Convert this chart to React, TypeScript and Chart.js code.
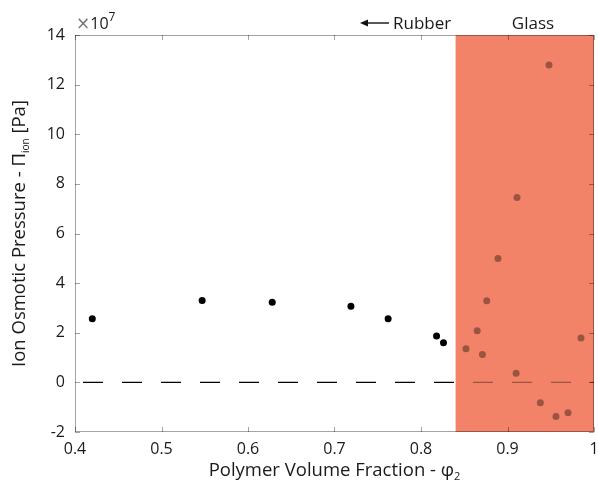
import { useEffect, useRef } from "react";
import { Chart, registerables } from "chart.js";

Chart.register(...registerables);

// Polymer volume fraction (phi_2) and ion osmotic pressure (units of 1e7 Pa)
const rubberPhi = [0.42, 0.547, 0.628, 0.719, 0.762, 0.818, 0.826];
const rubberPi = [2.56, 3.3, 3.23, 3.07, 2.56, 1.87, 1.6];
const glassPhi = [0.852, 0.865, 0.871, 0.876, 0.889, 0.91, 0.911, 0.938, 0.948, 0.956, 0.97, 0.985];
const glassPi = [1.36, 2.08, 1.12, 3.29, 4.99, 0.37, 7.45, -0.82, 12.79, -1.38, -1.22, 1.79];
const zeroLinePhi = [0.4, 0.84, 1.0];
const glassStart = 0.84;
const xTicks = [0.4, 0.5, 0.6, 0.7, 0.8, 0.9, 1.0];
const yTicks = [-2, 0, 2, 4, 6, 8, 10, 12, 14];
const exponentText = "7";

const FONT = "'Open Sans', 'DejaVu Sans', sans-serif";
const FRAME = "rgba(0,0,0,0.36)";
const ORANGE = "rgb(243,131,104)";
const SHADE = "rgba(0,0,0,0.36)";
const DASH = [20, 19];
const DASH_OFFSET = 31;

type Part = { t: string; size: number; dy: number; color?: string; font?: string };

function drawParts(ctx: CanvasRenderingContext2D, parts: Part[], x: number, y: number, align: "center" | "left") {
  let total = 0;
  const widths = parts.map((p) => {
    ctx.font = `${p.size}px ${p.font || FONT}`;
    const w = ctx.measureText(p.t).width;
    total += w;
    return w;
  });
  let cx = align === "center" ? x - total / 2 : x;
  ctx.textAlign = "left";
  ctx.textBaseline = "alphabetic";
  parts.forEach((p, i) => {
    ctx.font = `${p.size}px ${p.font || FONT}`;
    ctx.fillStyle = p.color || "#1a1a1a";
    ctx.fillText(p.t, cx, y + p.dy);
    cx += widths[i];
  });
}

const decorPlugin = {
  id: "decor",
  beforeDatasetsDraw(chart: any) {
    const { ctx, chartArea, scales } = chart;
    const x0 = scales.x.getPixelForValue(glassStart);
    ctx.save();
    ctx.fillStyle = ORANGE;
    ctx.fillRect(x0, chartArea.top, chartArea.right - x0, chartArea.bottom - chartArea.top);
    ctx.restore();
  },
  afterDraw(chart: any) {
    const { ctx, chartArea: a, scales } = chart;
    ctx.save();
    // frame
    ctx.strokeStyle = FRAME;
    ctx.lineWidth = 1;
    ctx.strokeRect(Math.round(a.left) + 0.5, Math.round(a.top) + 0.5, Math.round(a.right - a.left) - 1, Math.round(a.bottom - a.top) - 1);
    // inward ticks
    const tl = 5;
    ctx.beginPath();
    xTicks.forEach((v) => {
      const px = Math.round(scales.x.getPixelForValue(v)) + 0.5;
      ctx.moveTo(px, a.bottom);
      ctx.lineTo(px, a.bottom - tl);
      ctx.moveTo(px, a.top);
      ctx.lineTo(px, a.top + tl);
    });
    yTicks.forEach((v) => {
      const py = Math.round(scales.y.getPixelForValue(v)) + 0.5;
      ctx.moveTo(a.left, py);
      ctx.lineTo(a.left + tl, py);
      ctx.moveTo(a.right, py);
      ctx.lineTo(a.right - tl, py);
    });
    ctx.stroke();

    // exponent label
    drawParts(
      ctx,
      [
        { t: "×", size: 17, dy: 0, color: "#777", font: "'DejaVu Sans', sans-serif" },
        { t: "10", size: 16, dy: 0 },
        { t: exponentText, size: 12, dy: -8 },
      ],
      a.left + 1,
      a.top - 6,
      "left"
    );

    // Rubber arrow
    const ay = a.top - 12;
    ctx.strokeStyle = "#111";
    ctx.fillStyle = "#111";
    ctx.lineWidth = 1.4;
    ctx.beginPath();
    ctx.moveTo(364, ay);
    ctx.lineTo(389, ay);
    ctx.stroke();
    ctx.beginPath();
    ctx.moveTo(360, ay);
    ctx.lineTo(368, ay - 3.5);
    ctx.lineTo(368, ay + 3.5);
    ctx.closePath();
    ctx.fill();
    drawParts(ctx, [{ t: "Rubber", size: 17, dy: 0 }], 393, a.top - 6, "left");
    drawParts(ctx, [{ t: "Glass", size: 17, dy: 0 }], 533, a.top - 6, "center");

    // x title
    drawParts(
      ctx,
      [
        { t: "Polymer Volume Fraction - φ", size: 18.5, dy: 0 },
        { t: "2", size: 11, dy: 4 },
      ],
      (a.left + a.right) / 2,
      476,
      "center"
    );

    // y title (rotated)
    ctx.translate(25, (a.top + a.bottom) / 2);
    ctx.rotate(-Math.PI / 2);
    drawParts(
      ctx,
      [
        { t: "Ion Osmotic Pressure - Π", size: 18.5, dy: 0 },
        { t: "ion", size: 10, dy: 4 },
        { t: " [Pa]", size: 18.5, dy: 0 },
      ],
      0,
      0,
      "center"
    );
    ctx.restore();
  },
};

export default function App() {
  const ref = useRef<HTMLCanvasElement | null>(null);
  useEffect(() => {
    if (!ref.current) return;
    const chart = new Chart(ref.current, {
      type: "scatter",
      data: {
        datasets: [
          {
            type: "line",
            label: "zero",
            data: zeroLinePhi.map((x) => ({ x, y: 0 })),
            borderColor: "#000",
            borderWidth: 1.4,
            borderDash: DASH,
            borderDashOffset: DASH_OFFSET,
            pointRadius: 0,
            fill: false,
            segment: {
              borderColor: (c: any) => (c.p0.parsed.x >= glassStart ? SHADE : "#000"),
              borderDashOffset: (c: any) => DASH_OFFSET + (c.p0.x - c.chart.chartArea.left),
            },
          } as any,
          {
            label: "rubber",
            data: rubberPhi.map((x, i) => ({ x, y: rubberPi[i] })),
            backgroundColor: "#000",
            borderColor: "#000",
            pointRadius: 3.5,
            borderWidth: 0,
          },
          {
            label: "glass",
            data: glassPhi.map((x, i) => ({ x, y: glassPi[i] })),
            backgroundColor: SHADE,
            borderColor: SHADE,
            pointRadius: 3.5,
            borderWidth: 0,
          },
        ],
      },
      options: {
        responsive: false,
        animation: false,
        layout: { padding: { top: 35, right: 2, left: 0, bottom: 0 } },
        plugins: { legend: { display: false }, tooltip: { enabled: false } },
        scales: {
          x: {
            type: "linear",
            min: 0.4,
            max: 1.0,
            grid: { display: false, drawTicks: false },
            border: { display: false },
            afterBuildTicks: (s: any) => {
              s.ticks = xTicks.map((v) => ({ value: v }));
            },
            afterFit: (s: any) => {
              s.height = 58;
              s.paddingLeft = 0;
              s.paddingRight = 0;
            },
            ticks: {
              padding: 8,
              color: "#1a1a1a",
              font: { family: FONT, size: 16 },
              maxRotation: 0,
              callback: (v: any) => String(Number(v)),
            },
          },
          y: {
            type: "linear",
            min: -2,
            max: 14,
            grid: { display: false, drawTicks: false },
            border: { display: false },
            afterBuildTicks: (s: any) => {
              s.ticks = yTicks.map((v) => ({ value: v }));
            },
            afterFit: (s: any) => {
              s.width = 75;
              s.paddingTop = 0;
              s.paddingBottom = 0;
            },
            ticks: {
              padding: 10,
              color: "#1a1a1a",
              font: { family: FONT, size: 16 },
              callback: (v: any) => String(Number(v)),
            },
          },
        },
      },
      plugins: [decorPlugin],
    });
    return () => chart.destroy();
  }, []);
  return (
    <div style={{ position: "absolute", left: 0, top: 0, width: 598, height: 490, background: "#fff" }}>
      <canvas ref={ref} width={598} height={490} style={{ display: "block" }} />
    </div>
  );
}
